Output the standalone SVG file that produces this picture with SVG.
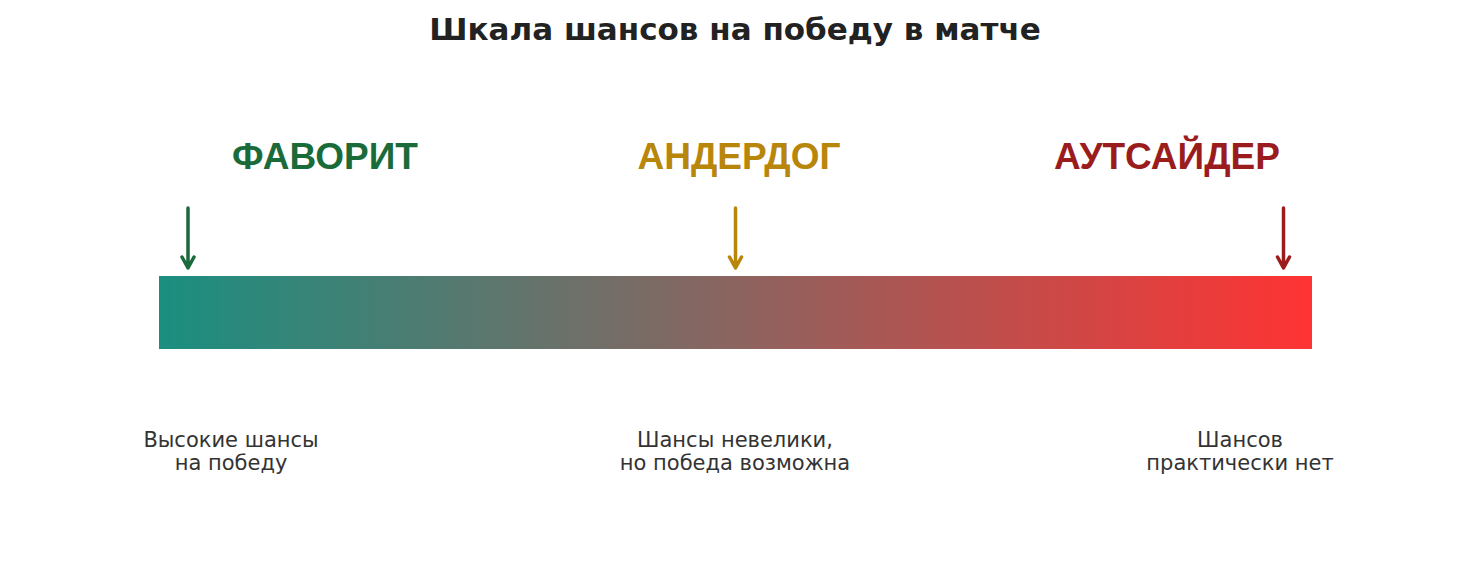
<svg xmlns="http://www.w3.org/2000/svg" width="1471" height="570" viewBox="0 0 1471 570">
<style>
.title{font-family:"DejaVu Sans",sans-serif;font-weight:bold;font-size:31px;fill:#222222;text-anchor:middle}
.cat{font-family:"Liberation Sans",Arial,sans-serif;font-weight:bold;font-size:37px;text-anchor:middle}
.desc{font-family:"DejaVu Sans",sans-serif;font-size:21px;fill:#333333;text-anchor:middle}
.arr{stroke-width:3.5;fill:none;stroke-linecap:round;stroke-linejoin:round}
</style>
<defs>
<linearGradient id="g" x1="0" y1="0" x2="1" y2="0">
<stop offset="0" stop-color="#1a8f80"/>
<stop offset="0.5" stop-color="#8c6460"/>
<stop offset="1" stop-color="#ff3333"/>
</linearGradient>
</defs>
<rect width="1471" height="570" fill="#ffffff"/>
<text class="title" x="735" y="40">Шкала шансов на победу в матче</text>
<g id="bar"><rect x="159" y="276" width="1153" height="73" fill="url(#g)"/></g>
<g id="favorit">
<text class="cat" x="325" y="169" fill="#1a6b3a">ФАВОРИТ</text>
<text class="desc" x="231" y="447">Высокие шансы</text>
<text class="desc" x="231" y="470">на победу</text>
</g>
<g id="underdog">
<text class="cat" x="739" y="169" fill="#b8860b">АНДЕРДОГ</text>
<text class="desc" x="735" y="447">Шансы невелики,</text>
<text class="desc" x="735" y="470">но победа возможна</text>
</g>
<g id="outsider">
<text class="cat" x="1167" y="169" fill="#9b1c1c">АУТСАЙДЕР</text>
<text class="desc" x="1240" y="447">Шансов</text>
<text class="desc" x="1240" y="470">практически нет</text>
</g>
<g id="connectors">
<path class="arr" stroke="#1a6b3a" d="M188 208V268M182 257L188 268L194 257"/>
<path class="arr" stroke="#b8860b" d="M735.5 208V268M729.5 257L735.5 268L741.5 257"/>
<path class="arr" stroke="#9b1c1c" d="M1283.5 208V268M1277.5 257L1283.5 268L1289.5 257"/>
</g>
</svg>
